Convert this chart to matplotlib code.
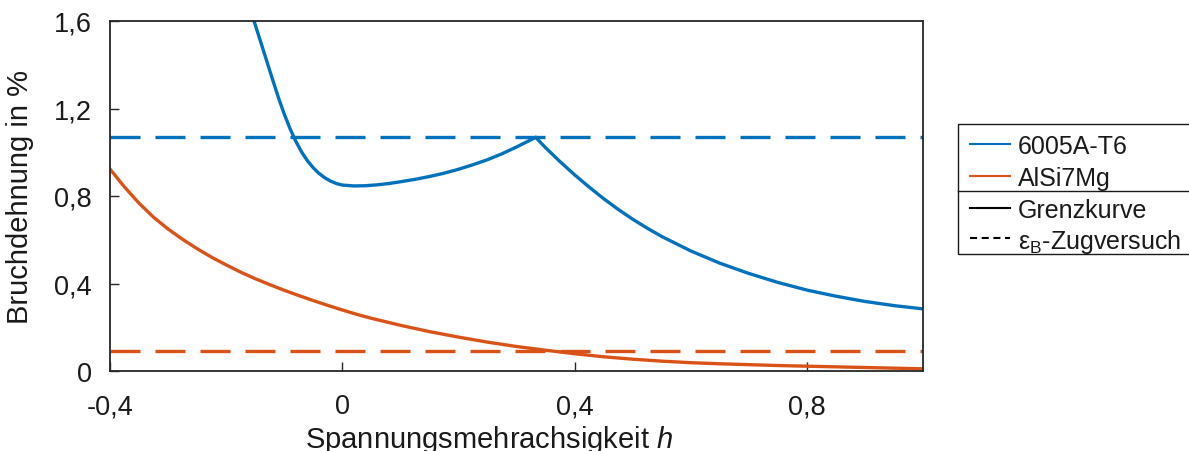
import matplotlib
matplotlib.use("Agg")
import matplotlib.pyplot as plt
from matplotlib.lines import Line2D
from matplotlib.patches import Rectangle

plt.rcParams["font.family"] = ["Liberation Sans", "DejaVu Sans"]
plt.rcParams["mathtext.fontset"] = "custom"
plt.rcParams["mathtext.rm"] = "Liberation Sans"
plt.rcParams["mathtext.it"] = "Liberation Sans:italic"

# Grenzkurve 6005A-T6 (Bruchdehnung in % über Spannungsmehrachsigkeit h)
h_6005 = [-0.155, -0.14, -0.13, -0.12, -0.11, -0.10, -0.09, -0.08, -0.07, -0.06,
          -0.05, -0.04, -0.03, -0.02, -0.01, 0.00, 0.02, 0.04, 0.06, 0.08,
          0.10, 0.125, 0.15, 0.175, 0.20, 0.225, 0.25, 0.275, 0.30, 0.333,
          0.35, 0.375, 0.40, 0.425, 0.45, 0.475, 0.50, 0.525, 0.55, 0.60,
          0.65, 0.70, 0.75, 0.80, 0.85, 0.90, 0.95, 1.00]
eps_6005 = [1.625, 1.500, 1.416, 1.332, 1.250, 1.175, 1.108, 1.050, 1.001, 0.961,
            0.929, 0.903, 0.883, 0.868, 0.857, 0.850, 0.846, 0.847, 0.851, 0.857,
            0.865, 0.876, 0.889, 0.904, 0.922, 0.943, 0.966, 0.993, 1.024, 1.068,
            1.021, 0.957, 0.897, 0.841, 0.788, 0.739, 0.694, 0.653, 0.615, 0.549,
            0.493, 0.446, 0.405, 0.370, 0.342, 0.318, 0.299, 0.284]

# Grenzkurve AlSi7Mg
h_alsi = [-0.40, -0.375, -0.35, -0.325, -0.30, -0.275, -0.25, -0.225, -0.20, -0.175,
          -0.15, -0.125, -0.10, -0.075, -0.05, -0.025, 0.00, 0.025, 0.05, 0.075,
          0.10, 0.15, 0.20, 0.25, 0.30, 0.35, 0.40, 0.45, 0.50, 0.55,
          0.60, 0.65, 0.70, 0.75, 0.80, 0.85, 0.90, 0.95, 1.00]
eps_alsi = [0.923, 0.841, 0.767, 0.703, 0.649, 0.602, 0.559, 0.520, 0.485, 0.452,
            0.422, 0.395, 0.369, 0.345, 0.322, 0.300, 0.279, 0.259, 0.241, 0.225,
            0.209, 0.180, 0.155, 0.132, 0.112, 0.095, 0.079, 0.065, 0.054, 0.045,
            0.038, 0.033, 0.029, 0.025, 0.022, 0.019, 0.016, 0.013, 0.010]

# Bruchdehnung aus dem Zugversuch
h_range = [-0.4, 1.0]
epsB_6005 = 1.07
epsB_alsi = 0.09

x_ticks = [-0.4, 0.0, 0.4, 0.8]
x_ticklabels = ["-0,4", "0", "0,4", "0,8"]
y_ticks = [0.0, 0.4, 0.8, 1.2, 1.6]
y_ticklabels = ["0", "0,4", "0,8", "1,2", "1,6"]

materials = ["6005A-T6", "AlSi7Mg"]
colors = ["#0072BD", "#D95319"]
legend_styles = ["Grenzkurve", r"ε$_{\mathregular{B}}$-Zugversuch"]

W, H = 1189, 452
fig = plt.figure(figsize=(W / 100, H / 100), dpi=100)
ax = fig.add_axes([110 / W, 1 - 372 / H, 813 / W, 350 / H])

lw = 2.4
dash = (9, 4.5)
ax.plot(h_6005, eps_6005, color=colors[0], lw=lw, solid_joinstyle="miter")
ax.plot(h_alsi, eps_alsi, color=colors[1], lw=lw)
ax.plot(h_range, [epsB_6005] * 2, color=colors[0], lw=lw, dashes=dash)
ax.plot(h_range, [epsB_alsi] * 2, color=colors[1], lw=lw, dashes=dash)

ax.set_xlim(-0.4, 1.0)
ax.set_ylim(0, 1.6)
ax.set_xticks(x_ticks)
ax.set_xticklabels(x_ticklabels)
ax.set_yticks(y_ticks)
ax.set_yticklabels(y_ticklabels)

txt = "#1a1a1a"
for s in ax.spines.values():
    s.set_color("#262626")
    s.set_linewidth(1.3)
ax.tick_params(axis="x", direction="in", length=6.5, width=1.0, colors="#262626",
               labelsize=19.5, pad=16, labelcolor=txt)
ax.tick_params(axis="y", direction="in", length=6.5, width=1.0, colors="#262626",
               labelsize=19.5, pad=13, labelcolor=txt)

ax.set_ylabel("Bruchdehnung in %", fontsize=21, color=txt)
ax.yaxis.set_label_coords(-76 / 813, 0.5)
ax.set_xlabel(r"Spannungsmehrachsigkeit $h$", fontsize=21, color=txt)
ax.xaxis.set_label_coords((489 - 110) / 813, -52 / 350)

# Legende
def fx(px):
    return px / W

def fy(py):
    return 1 - py / H

fig.patches.append(Rectangle((fx(958), fy(255)), fx(1195) - fx(958), fy(125) - fy(255),
                             transform=fig.transFigure, fill=False,
                             edgecolor="#1a1a1a", lw=1.0, zorder=5))
fig.lines.append(Line2D([fx(958), fx(1195)], [fy(191.7)] * 2,
                        transform=fig.transFigure, color="#1a1a1a", lw=1.0))

rows_y = [145, 176.5, 208.5, 238.5]
entry_labels = materials + legend_styles
entry_colors = colors + ["black", "black"]
entry_dashes = [None, None, None, (3.4, 2.2)]
for yy, lab, c, d in zip(rows_y, entry_labels, entry_colors, entry_dashes):
    ln = Line2D([fx(970), fx(1010)], [fy(yy)] * 2, transform=fig.transFigure,
                color=c, lw=1.5)
    if d is not None:
        ln.set_dashes(d)
    fig.lines.append(ln)
    fig.text(fx(1018), fy(yy), lab, fontsize=18, color=txt,
             ha="left", va="center_baseline")

fig.savefig("out.png", dpi=100)
